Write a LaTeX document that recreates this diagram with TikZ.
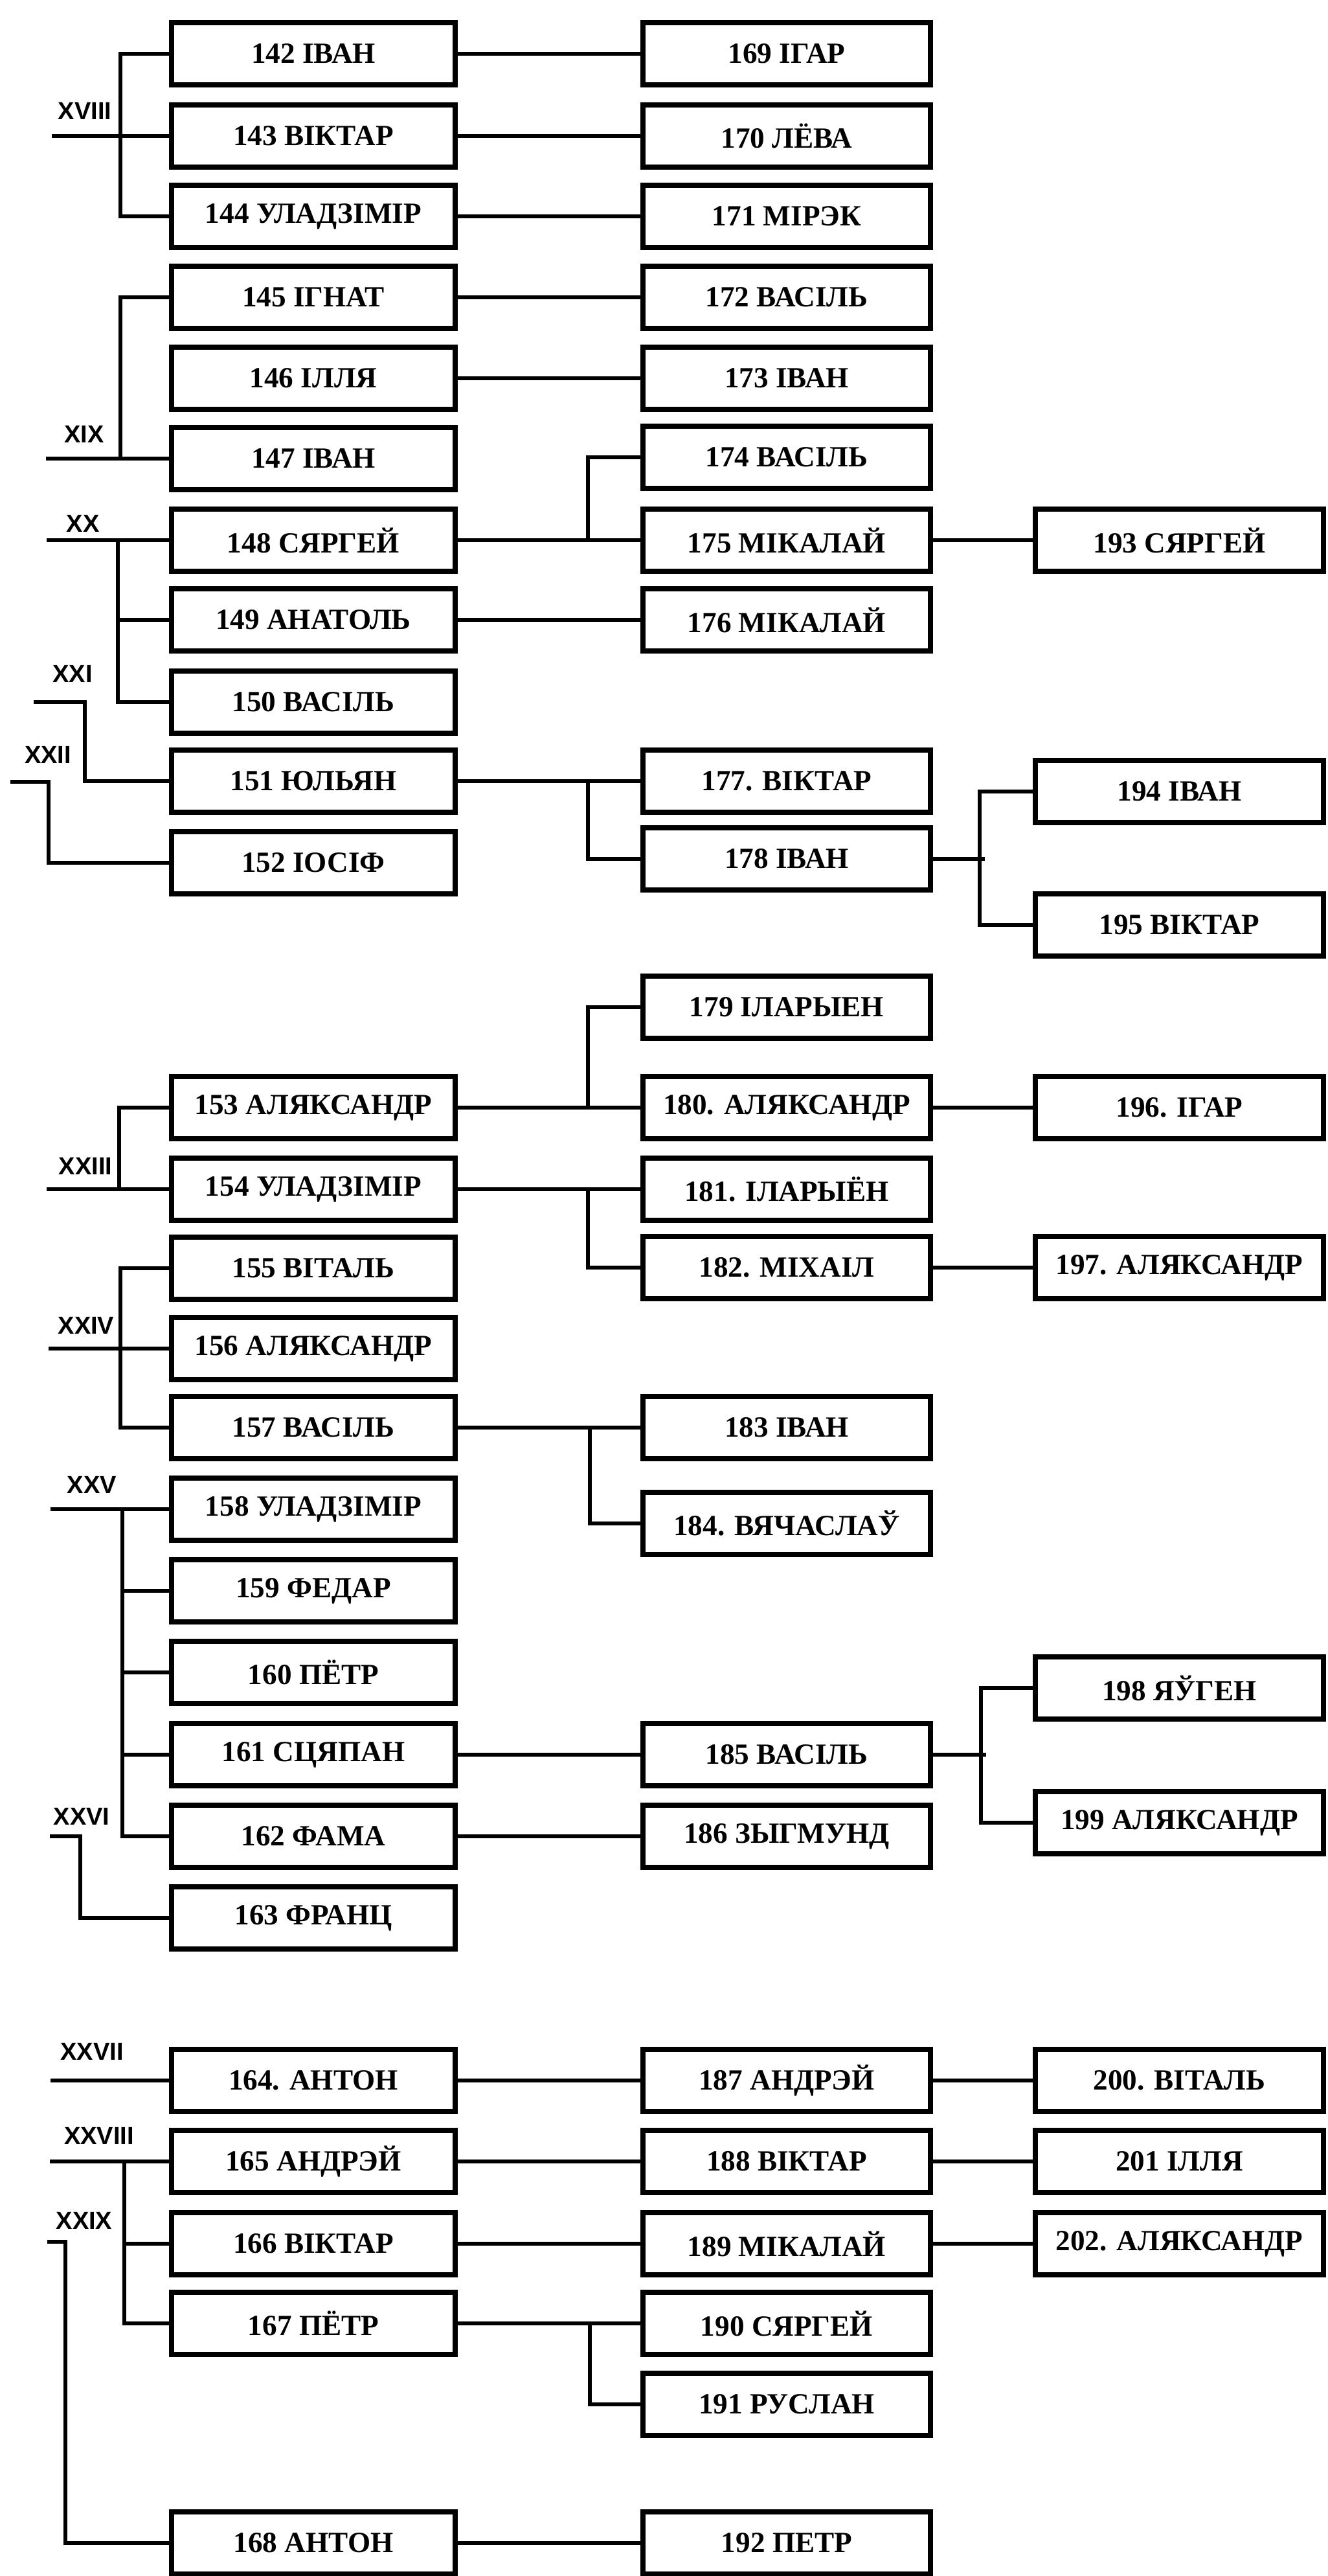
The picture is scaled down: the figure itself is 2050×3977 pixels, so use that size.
\documentclass[tikz,border=0pt]{standalone}
\usepackage{fontspec}
\setmainfont{Liberation Serif}
\newfontfamily\romfont{Liberation Sans}
\usetikzlibrary{calc}
\tikzset{
  pbox/.style={draw, line width=2pt, rectangle, inner sep=0pt, minimum height=24pt,
    font=\bfseries\fontsize{11.3}{13}\selectfont},
  conn/.style={line width=1.5pt},
  rom/.style={font=\romfont\bfseries\fontsize{9.5}{11}\selectfont, inner sep=0pt}
}
\newcommand\colone[3]{\node[pbox, minimum width=109.5pt] (#1) at (484,#2) {#3};}
\newcommand\coltwo[3]{\node[pbox, minimum width=111pt] (#1) at (1215,#2) {#3};}
\newcommand\colthree[3]{\node[pbox, minimum width=111.25pt] (#1) at (1821.5,#2) {#3};}
\begin{document}
\begin{tikzpicture}[x=0.25pt, y=-0.25pt]
\useasboundingbox (0,0) rectangle (2050,3977);
% ---------- section 1 ----------
\colone{b142}{83}{142 ІВАН}
\colone{b143}{210}{143 ВІКТАР}
\colone{b144}{334}{144 УЛАДЗІМІР}
\colone{b145}{459}{145 ІГНАТ}
\colone{b146}{584}{146 ІЛЛЯ}
\colone{b147}{708}{147 ІВАН}
\colone{b148}{834}{148 СЯРГЕЙ}
\colone{b149}{957}{149 АНАТОЛЬ}
\colone{b150}{1084}{150 ВАСІЛЬ}
\colone{b151}{1206}{151 ЮЛЬЯН}
\colone{b152}{1332}{152 ІОСІФ}
\coltwo{b169}{83}{169 ІГАР}
\coltwo{b170}{210}{170 ЛЁВА}
\coltwo{b171}{334}{171 МІРЭК}
\coltwo{b172}{459}{172 ВАСІЛЬ}
\coltwo{b173}{584}{173 ІВАН}
\coltwo{b174}{706}{174 ВАСІЛЬ}
\coltwo{b175}{834}{175 МІКАЛАЙ}
\coltwo{b176}{957}{176 МІКАЛАЙ}
\coltwo{b177}{1206}{177. ВІКТАР}
\coltwo{b178}{1326}{178 ІВАН}
\colthree{b193}{834}{193 СЯРГЕЙ}
\colthree{b194}{1222}{194 ІВАН}
\colthree{b195}{1428}{195 ВІКТАР}
% ---------- section 2 ----------
\colone{b153}{1710}{153 АЛЯКСАНДР}
\colone{b154}{1836}{154 УЛАДЗІМІР}
\colone{b155}{1958}{155 ВІТАЛЬ}
\colone{b156}{2082}{156 АЛЯКСАНДР}
\colone{b157}{2204}{157 ВАСІЛЬ}
\colone{b158}{2330}{158 УЛАДЗІМІР}
\colone{b159}{2456}{159 ФЕДАР}
\colone{b160}{2582}{160 ПЁТР}
\colone{b161}{2709}{161 СЦЯПАН}
\colone{b162}{2835}{162 ФАМА}
\colone{b163}{2961}{163 ФРАНЦ}
\coltwo{b179}{1555}{179 ІЛАРЫЕН}
\coltwo{b180}{1710}{180. АЛЯКСАНДР}
\coltwo{b181}{1836}{181. ІЛАРЫЁН}
\coltwo{b182}{1957}{182. МІХАІЛ}
\coltwo{b183}{2204}{183 ІВАН}
\coltwo{b184}{2352}{184. ВЯЧАСЛАЎ}
\coltwo{b185}{2709}{185 ВАСІЛЬ}
\coltwo{b186}{2835}{186 ЗЫГМУНД}
\colthree{b196}{1710}{196. ІГАР}
\colthree{b197}{1957}{197. АЛЯКСАНДР}
\colthree{b198}{2606}{198 ЯЎГЕН}
\colthree{b199}{2814}{199 АЛЯКСАНДР}
% ---------- section 3 ----------
\colone{b164}{3212}{164. АНТОН}
\colone{b165}{3337}{165 АНДРЭЙ}
\colone{b166}{3464}{166 ВІКТАР}
\colone{b167}{3587}{167 ПЁТР}
\colone{b168}{3926}{168 АНТОН}
\coltwo{b187}{3212}{187 АНДРЭЙ}
\coltwo{b188}{3337}{188 ВІКТАР}
\coltwo{b189}{3464}{189 МІКАЛАЙ}
\coltwo{b190}{3587}{190 СЯРГЕЙ}
\coltwo{b191}{3712}{191 РУСЛАН}
\coltwo{b192}{3926}{192 ПЕТР}
\colthree{b200}{3212}{200. ВІТАЛЬ}
\colthree{b201}{3337}{201 ІЛЛЯ}
\colthree{b202}{3464}{202. АЛЯКСАНДР}
% ---------- roman labels ----------
\node[rom] (l18) at (131,171) {XVIII};
\node[rom] (l19) at (130,670) {XIX};
\node[rom] (l20) at (128,808) {XX};
\node[rom] (l21) at (112,1040) {XXI};
\node[rom] (l22) at (74,1165) {XXII};
\node[rom] (l23) at (132,1800) {XXIII};
\node[rom] (l24) at (133,2046) {XXIV};
\node[rom] (l25) at (142,2292) {XXV};
\node[rom] (l26) at (126,2804) {XXVI};
\node[rom] (l27) at (142,3167) {XXVII};
\node[rom] (l28) at (153,3297) {XXVIII};
\node[rom] (l29) at (130,3428) {XXIX};
% ---------- free ends ----------
\coordinate (s18) at (80,210);
\coordinate (s19) at (71,708);
\coordinate (s20) at (72,834);
\coordinate (s21) at (52,1084);
\coordinate (c21) at (131,1206);
\coordinate (s22) at (16,1207);
\coordinate (c22) at (75,1332);
\coordinate (s23) at (72,1836);
\coordinate (s24) at (75,2082);
\coordinate (s25) at (78,2330);
\coordinate (s26) at (77,2835);
\coordinate (c26) at (124,2961);
\coordinate (s27) at (78,3212);
\coordinate (s28) at (77,3337);
\coordinate (s29) at (73,3461);
\coordinate (c29) at (101,3926);
% ---------- left connectors ----------
\draw[conn] (s18) -- (b143.west);
\draw[conn] (b142.west) -- ++(-75,0) |- (b144.west);
\draw[conn] (s19) -- (b147.west);
\draw[conn] (b145.west) -- ++(-75,0) |- (b147.west);
\draw[conn] (s20) -- (b148.west);
\draw[conn] (b148.west) ++(-79,0) |- (b150.west);
\draw[conn] (b149.west) -- ++(-79,0);
\draw[conn] (s21) -| (c21) -- (b151.west);
\draw[conn] (s22) -| (c22) -- (b152.west);
\draw[conn] (s23) -- (b154.west);
\draw[conn] (b153.west) -- ++(-77,0) |- (b154.west);
\draw[conn] (s24) -- (b156.west);
\draw[conn] (b155.west) -- ++(-75,0) |- (b157.west);
\draw[conn] (s25) -- (b158.west);
\draw[conn] (b158.west) ++(-72,0) |- (b162.west);
\draw[conn] (b159.west) -- ++(-72,0);
\draw[conn] (b160.west) -- ++(-72,0);
\draw[conn] (b161.west) -- ++(-72,0);
\draw[conn] (s26) -| (c26) -- (b163.west);
\draw[conn] (s27) -- (b164.west);
\draw[conn] (s28) -- (b165.west);
\draw[conn] (b165.west) ++(-69,0) |- (b167.west);
\draw[conn] (b166.west) -- ++(-69,0);
\draw[conn] (s29) -| (c29) -- (b168.west);
% ---------- col1 -> col2 ----------
\draw[conn] (b142.east) -- (b169.west);
\draw[conn] (b143.east) -- (b170.west);
\draw[conn] (b144.east) -- (b171.west);
\draw[conn] (b145.east) -- (b172.west);
\draw[conn] (b146.east) -- (b173.west);
\draw[conn] (b148.east) -- (b175.west);
\draw[conn] (b175.west) ++(-81,0) |- (b174.west);
\draw[conn] (b149.east) -- (b176.west);
\draw[conn] (b151.east) -- (b177.west);
\draw[conn] (b177.west) ++(-81,0) |- (b178.west);
\draw[conn] (b153.east) -- (b180.west);
\draw[conn] (b180.west) ++(-81,0) |- (b179.west);
\draw[conn] (b154.east) -- (b181.west);
\draw[conn] (b181.west) ++(-81,0) |- (b182.west);
\draw[conn] (b157.east) -- (b183.west);
\draw[conn] (b183.west) ++(-78,0) |- (b184.west);
\draw[conn] (b161.east) -- (b185.west);
\draw[conn] (b162.east) -- (b186.west);
\draw[conn] (b164.east) -- (b187.west);
\draw[conn] (b165.east) -- (b188.west);
\draw[conn] (b166.east) -- (b189.west);
\draw[conn] (b167.east) -- (b190.west);
\draw[conn] (b190.west) ++(-78,0) |- (b191.west);
\draw[conn] (b168.east) -- (b192.west);
% ---------- col2 -> col3 ----------
\draw[conn] (b175.east) -- (b193.west);
\draw[conn] (b178.east) -- ++(80,0);
\draw[conn] (b194.west) -- ++(-82,0) |- (b195.west);
\draw[conn] (b180.east) -- (b196.west);
\draw[conn] (b182.east) -- (b197.west);
\draw[conn] (b185.east) -- ++(82,0);
\draw[conn] (b198.west) -- ++(-80,0) |- (b199.west);
\draw[conn] (b187.east) -- (b200.west);
\draw[conn] (b188.east) -- (b201.west);
\draw[conn] (b189.east) -- (b202.west);
\end{tikzpicture}
\end{document}
